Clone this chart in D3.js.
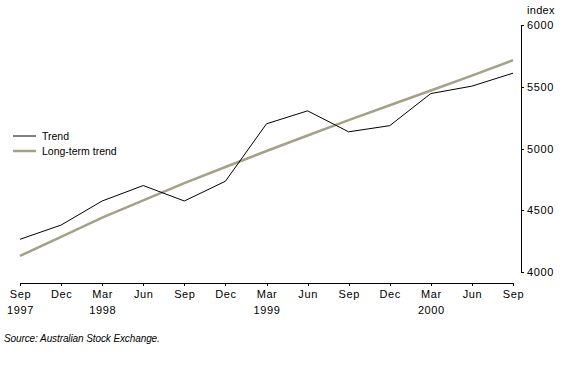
<!DOCTYPE html>
<html>
<head>
<meta charset="utf-8">
<script src="https://cdn.jsdelivr.net/npm/d3@7"></script>
<style>
  body { margin: 0; background: #fff; }
  svg { display: block; font-family: "Liberation Sans", Arial, sans-serif; }
  .axis text { font-size: 11px; fill: #000; letter-spacing: 0.6px; }
  .axis path, .axis line { stroke: #000; stroke-width: 1; shape-rendering: crispEdges; }
</style>
</head>
<body>
<div id="chart"></div>
<script>
// quarters Sep 1997 .. Sep 2000
const quarters = ["Sep", "Dec", "Mar", "Jun", "Sep", "Dec", "Mar", "Jun", "Sep", "Dec", "Mar", "Jun", "Sep"];
const years = ["1997", "", "1998", "", "", "", "1999", "", "", "", "2000", "", ""];

const trend = [4265, 4380, 4575, 4700, 4575, 4735, 5200, 5305, 5135, 5185, 5445, 5505, 5610];
const longTermTrend = [4130, 4285, 4440, 4580, 4720, 4850, 4980, 5105, 5230, 5350, 5470, 5590, 5715];

const yTicks = [4000, 4500, 5000, 5500, 6000];

const width = 567;
const height = 378;

const svg = d3.select("#chart")
    .append("svg")
    .attr("width", width)
    .attr("height", height);

// scales
const xScale = d3.scalePoint()
    .domain(d3.range(quarters.length))
    .range([20, 513]);

const yScale = d3.scaleLinear()
    .domain([4000, 6000])
    .range([272, 25]);

// x axis
const xAxis = svg.append("g")
    .attr("class", "axis")
    .attr("transform", "translate(0,283)")
    .call(d3.axisBottom(xScale).tickSize(3).tickSizeOuter(3).tickFormat(""));

xAxis.selectAll(".tick").each(function(d) {
    const t = d3.select(this).append("text")
        .attr("text-anchor", "middle")
        .attr("fill", "#000")
        .attr("y", 15);
    t.append("tspan").attr("x", 0).text(quarters[d]);
    if (years[d]) t.append("tspan").attr("x", 0).attr("dy", 16).text(years[d]);
});

// y axis on the right
svg.append("g")
    .attr("class", "axis")
    .attr("transform", "translate(521,0)")
    .call(d3.axisRight(yScale).tickValues(yTicks).tickFormat(d3.format("d"))
        .tickSize(3).tickSizeOuter(3).tickPadding(3));

svg.append("text")
    .attr("x", 527)
    .attr("y", 14)
    .attr("font-size", 11)
    .attr("letter-spacing", 0.3)
    .text("index");

// lines
const line = d3.line()
    .x(function(d, i) { return xScale(i); })
    .y(function(d) { return yScale(d); });

svg.append("path")
    .datum(longTermTrend)
    .attr("fill", "none")
    .attr("stroke", "#a3a189")
    .attr("stroke-width", 2.5)
    .attr("d", line);

svg.append("path")
    .datum(trend)
    .attr("fill", "none")
    .attr("stroke", "#000")
    .attr("stroke-width", 1)
    .attr("d", line);

// legend
const legend = [
    {label: "Trend", color: "#000", w: 1},
    {label: "Long-term trend", color: "#a3a189", w: 2.5}
];

legend.forEach(function(item, i) {
    const y = 136 + i * 15;
    svg.append("line")
        .attr("x1", 13).attr("x2", 36)
        .attr("y1", y).attr("y2", y)
        .attr("stroke", item.color)
        .attr("stroke-width", item.w);
    svg.append("text")
        .attr("x", 42)
        .attr("y", y + 3.5)
        .attr("font-size", 10.5)
        .text(item.label);
});

svg.append("text")
    .attr("x", 4)
    .attr("y", 342)
    .attr("font-size", 10)
    .attr("font-style", "italic")
    .attr("letter-spacing", -0.1)
    .text("Source: Australian Stock Exchange.");
</script>
</body>
</html>
